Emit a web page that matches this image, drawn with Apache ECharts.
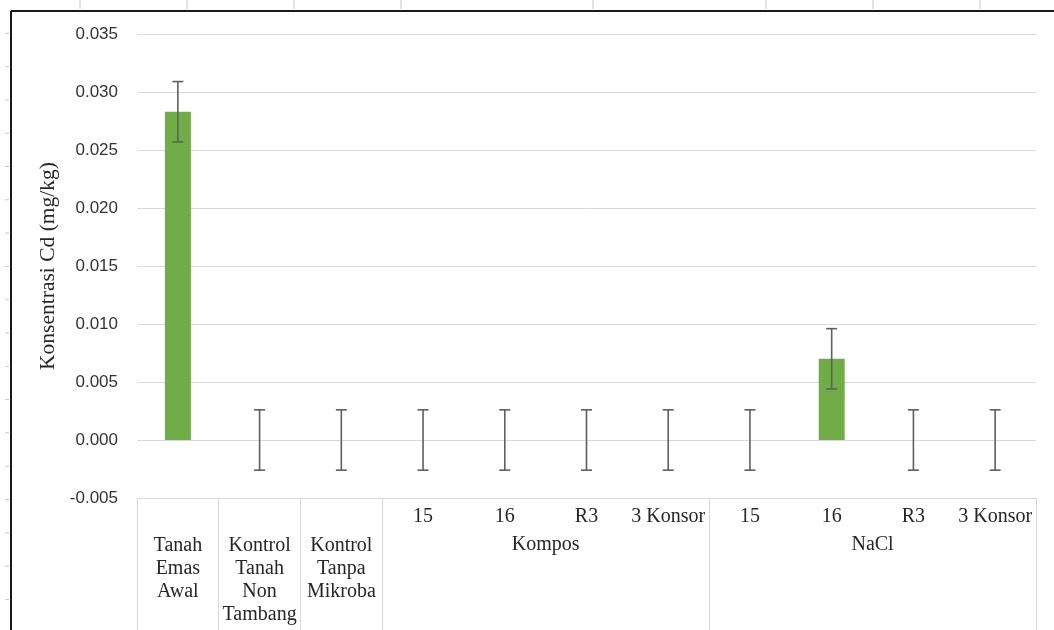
<!DOCTYPE html>
<html>
<head>
<meta charset="utf-8">
<script src="https://cdn.jsdelivr.net/npm/echarts@6/dist/echarts.min.js"></script>
<style>
html,body{margin:0;padding:0;background:#fff;}
#chart{width:1054px;height:630px;}
</style>
</head>
<body>
<div id="chart"></div>
<script>
// ---- data ----
const categories = ['Tanah\nEmas\nAwal', 'Kontrol\nTanah\nNon\nTambang', 'Kontrol\nTanpa\nMikroba',
  '15', '16', 'R3', '3 Konsor', '15', '16', 'R3', '3 Konsor'];
const values = [0.0283, 0, 0, 0, 0, 0, 0, 0, 0.0070, 0, 0];
const errors = [0.0026, 0.0026, 0.0026, 0.0026, 0.0026, 0.0026, 0.0026, 0.0026, 0.0026, 0.0026, 0.0026];
const groupNames = ['Kompos', 'NaCl'];
const groupStart = [3, 7];
const groupEnd = [6, 10];
const boundaryTicks = [0, 1, 2, 3, 7];
const yTicks = { min: -0.005, max: 0.035, interval: 0.005 };
const yName = 'Konsentrasi Cd (mg/kg)';

const serif = '"Liberation Serif", "Times New Roman", serif';
const sans = '"Liberation Sans", Arial, sans-serif';

const chart = echarts.init(document.getElementById('chart'), null, { renderer: 'canvas' });

const option = {
  animation: false,
  backgroundColor: '#ffffff',
  grid: { left: 137, right: 18, top: 34, bottom: 132, containLabel: false },
  xAxis: [
    {
      type: 'category',
      data: categories,
      position: 'bottom',
      boundaryGap: true,
      axisLine: { show: true, onZero: false, lineStyle: { color: '#d9d9d9', width: 1 } },
      axisTick: {
        show: true,
        alignWithLabel: false,
        length: 132,
        interval: function (idx) { return boundaryTicks.indexOf(idx) >= 0; },
        lineStyle: { color: '#d9d9d9', width: 1 }
      },
      axisLabel: {
        interval: 0,
        margin: 7,
        fontFamily: serif,
        fontSize: 20,
        lineHeight: 23,
        color: '#262626',
        formatter: function (v, i) { return i >= 3 ? v : ''; }
      },
      splitLine: { show: false }
    },
    {
      type: 'category',
      data: categories,
      position: 'bottom',
      boundaryGap: true,
      axisLine: { show: false, onZero: false },
      axisTick: { show: false },
      axisLabel: {
        interval: 0,
        margin: 36,
        fontFamily: serif,
        fontSize: 20,
        lineHeight: 23,
        color: '#262626',
        formatter: function (v, i) { return i < 3 ? v : ''; }
      },
      splitLine: { show: false }
    }
  ],
  yAxis: {
    type: 'value',
    min: yTicks.min,
    max: yTicks.max,
    interval: yTicks.interval,
    name: yName,
    nameLocation: 'middle',
    nameGap: 75,
    nameRotate: 90,
    nameTextStyle: { fontFamily: serif, fontSize: 21.5, color: '#262626' },
    axisLine: { show: false },
    axisTick: { show: false },
    axisLabel: {
      margin: 19,
      fontFamily: sans,
      fontSize: 17,
      color: '#333333',
      formatter: function (v) { return v.toFixed(3); }
    },
    splitLine: { show: true, lineStyle: { color: '#d9d9d9', width: 1 } }
  },
  series: [
    {
      type: 'bar',
      xAxisIndex: 0,
      data: values,
      barWidth: 26,
      itemStyle: { color: '#70AD47' },
      z: 2
    },
    {
      type: 'custom',
      xAxisIndex: 0,
      data: values.map(function (v, i) { return [i, v, errors[i]]; }),
      z: 3,
      renderItem: function (params, api) {
        const x = api.value(0), v = api.value(1), e = api.value(2);
        const top = api.coord([x, v + e]);
        const bot = api.coord([x, v - e]);
        const hw = 5.5;
        const style = { stroke: '#5f5f5f', lineWidth: 1.6 };
        return {
          type: 'group',
          children: [
            { type: 'line', shape: { x1: top[0], y1: top[1], x2: bot[0], y2: bot[1] }, style: style },
            { type: 'line', shape: { x1: top[0] - hw, y1: top[1], x2: top[0] + hw, y2: top[1] }, style: style },
            { type: 'line', shape: { x1: bot[0] - hw, y1: bot[1], x2: bot[0] + hw, y2: bot[1] }, style: style }
          ]
        };
      }
    }
  ]
};

chart.setOption(option);

// group labels positioned from the category scale
const yBase = chart.convertToPixel({ yAxisIndex: 0 }, yTicks.min);
const graphics = [];
groupNames.forEach(function (name, g) {
  const x1 = chart.convertToPixel({ xAxisIndex: 0 }, groupStart[g]);
  const x2 = chart.convertToPixel({ xAxisIndex: 0 }, groupEnd[g]);
  graphics.push({
    type: 'text',
    x: (x1 + x2) / 2,
    y: yBase + 47,
    style: {
      text: name,
      fontFamily: serif,
      fontSize: 20,
      fill: '#262626',
      align: 'center',
      verticalAlign: 'middle'
    }
  });
});
// outer frame (document border) and faint ruler marks
graphics.push({ type: 'line', shape: { x1: 11, y1: 11, x2: 11, y2: 630 }, style: { stroke: '#1a1a1a', lineWidth: 2 } });
graphics.push({ type: 'line', shape: { x1: 11, y1: 11, x2: 1054, y2: 11 }, style: { stroke: '#1a1a1a', lineWidth: 2 } });
for (let k = 1; k < 19; k++) {
  graphics.push({ type: 'line', shape: { x1: 5, y1: 33.3 * k, x2: 9, y2: 33.3 * k }, style: { stroke: '#c8c8c8', lineWidth: 1 } });
}
[80, 187, 294, 401, 593, 766, 873, 980].forEach(function (x) {
  graphics.push({ type: 'line', shape: { x1: x, y1: 0, x2: x, y2: 9 }, style: { stroke: '#c8c8c8', lineWidth: 1 } });
});
chart.setOption({ graphic: graphics });
</script>
</body>
</html>
